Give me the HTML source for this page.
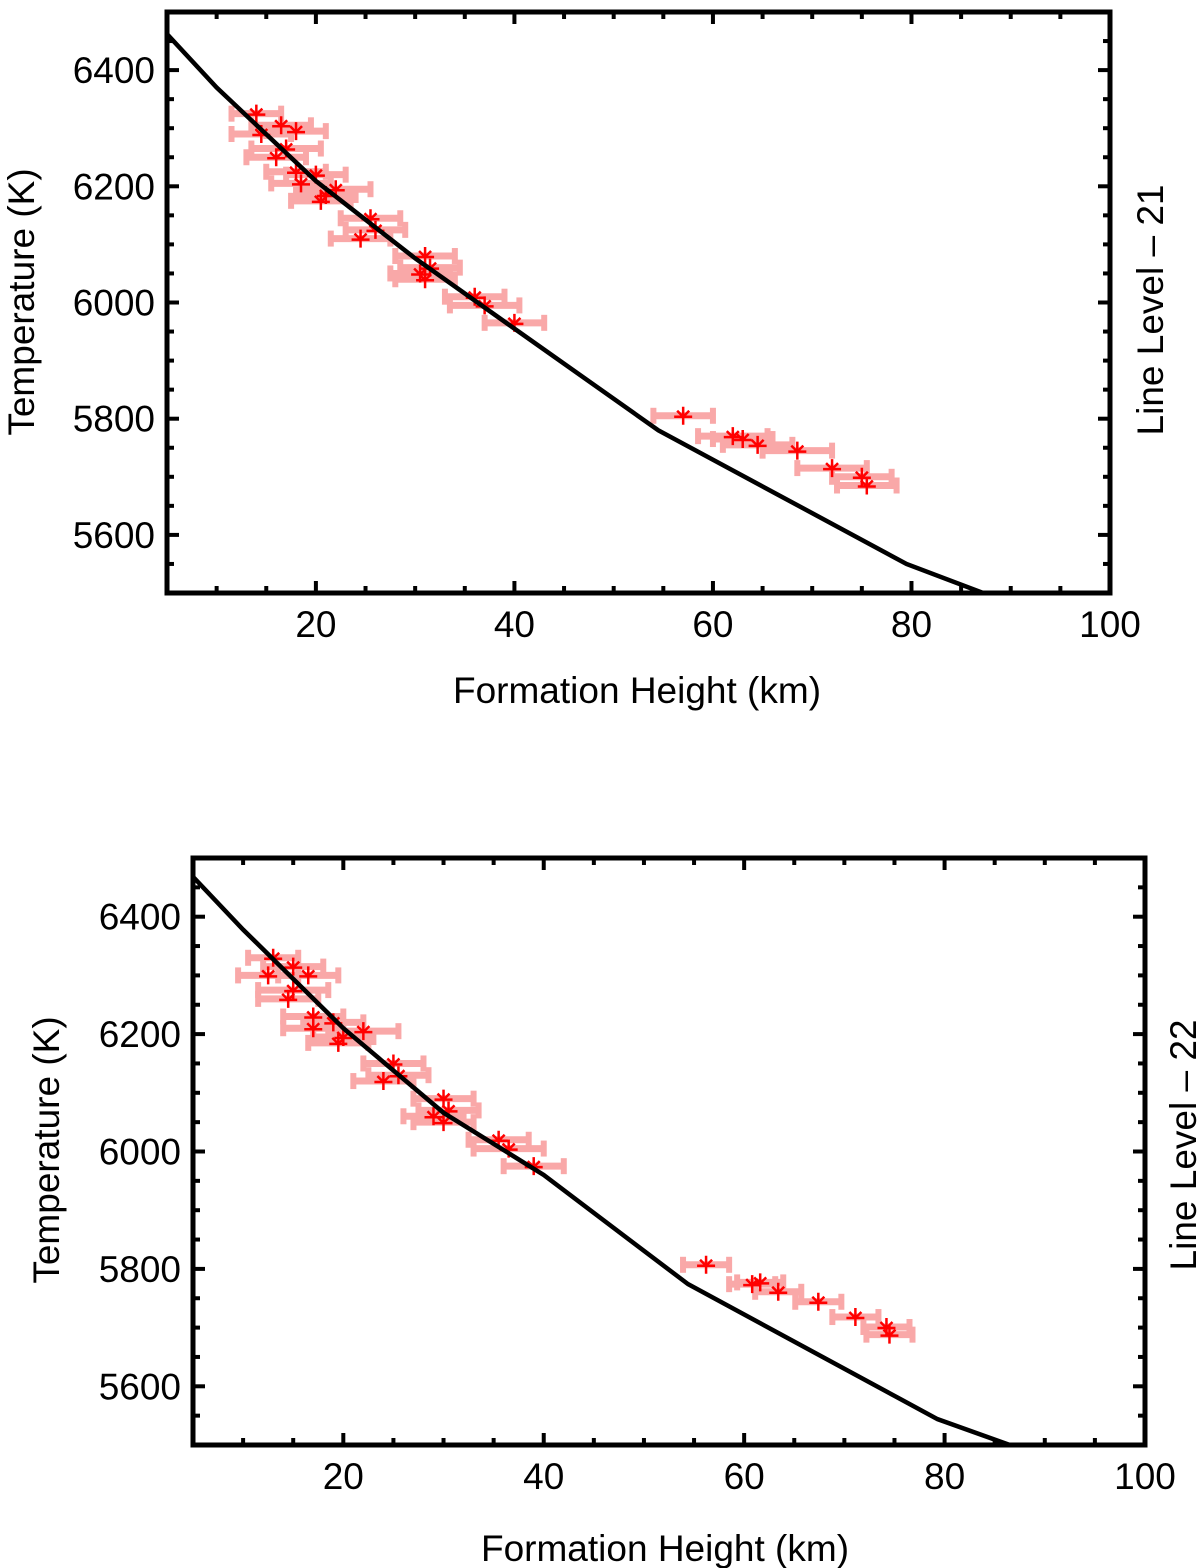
<!DOCTYPE html>
<html><head><meta charset="utf-8"><style>
html,body{margin:0;padding:0;background:#fff;}
svg{display:block;font-family:"Liberation Sans",Arial,sans-serif;}
</style></head><body>
<svg id="chart" width="1200" height="1568" viewBox="0 0 1200 1568" xmlns="http://www.w3.org/2000/svg"></svg>
<script>
// ---- data ----
const xTicks = [20, 40, 60, 80, 100];
const yTicks = [5600, 5800, 6000, 6200, 6400];
const topX = [14,16.5,18,14.5,17,16,18,20,18.5,21,20.5,22,25.5,26,24.5,31,31.5,31,30.5,36,37,40,57,62,63,64.5,68.5,72,75,75.5];
const topT = [6325,6305,6295,6290,6265,6250,6225,6220,6205,6185,6175,6195,6145,6125,6110,6080,6060,6040,6050,6010,5995,5965,5805,5770,5765,5755,5745,5715,5700,5685];
const topErr = [2.5,3,3,3,3.5,3,3,3,3,3,3,3.5,3,3,3,3,3,3,3,3,3.5,3,3,3.5,3,3.5,3.5,3.5,3,3];
const topCurveX = [5,10,20,30,40,54.5,79.5,88];
const topCurveT = [6462,6370,6209,6076,5955,5780,5550,5495];
const botX = [13,15,16.5,12.5,15,14.5,17,19,17,20,19.5,22,25,25.5,24,30,30.5,30,29,35.5,36.5,39,56.2,60.8,61.6,63.4,67.4,71.1,74.2,74.5];
const botT = [6330,6315,6300,6300,6275,6260,6230,6220,6210,6195,6185,6205,6150,6130,6120,6090,6070,6050,6060,6020,6005,5975,5807,5774,5777,5761,5744,5718,5701,5688];
const botErr = [2.5,3,3,3,3.5,3,3,3,3,3,3,3.5,3,3,3,3,3,3,3,3,3.5,3,2.3,2.3,2.3,2.3,2.3,2.3,2.3,2.3];
const botCurveX = [5,10,20,30,40,54.4,79.3,87];
const botCurveT = [6468,6378,6210,6066,5960,5774,5544,5497];

const NS = "http://www.w3.org/2000/svg";
const svg = document.getElementById('chart');
function mk(tag, attrs, parent){const e=document.createElementNS(NS,tag);for(const k in attrs)e.setAttribute(k,attrs[k]);(parent||svg).appendChild(e);return e;}

function panel(id, box, xs, ts, errs, cx, ct, xTitlePos, yTitlePos, rightLabel, rightPos){
  const g = mk('g',{});
  
  
  const sx = v => box.l + (v-5)/(100-5)*(box.r-box.l);
  const sy = v => box.b - (v-5500)/(6500-5500)*(box.b-box.t);
  const clip = mk('clipPath',{id:id+'-clip'},g);
  mk('rect',{x:box.l,y:box.t,width:box.r-box.l,height:box.b-box.t},clip);
  const plot = mk('g',{'clip-path':'url(#'+id+'-clip)'},g);
  const eb = mk('g',{},plot);
  
  
  for(let i=0;i<xs.length;i++){
    const x1=sx(xs[i]-errs[i]), x2=sx(xs[i]+errs[i]), y=sy(ts[i]);
    const l=mk('line',{x1:x1,x2:x2,y1:y,y2:y,stroke:'#f9a8a8','stroke-width':7},eb);
    
    
    mk('line',{x1:x1,x2:x1,y1:y-8,y2:y+8,stroke:'#f9a8a8','stroke-width':6},eb);
    mk('line',{x1:x2,x2:x2,y1:y-8,y2:y+8,stroke:'#f9a8a8','stroke-width':6},eb);
  }
  const mg = mk('g',{},plot);
  
  
  for(let i=0;i<xs.length;i++){
    const x=sx(xs[i]), y=sy(ts[i]);
    const p=mk('path',{d:`M${x} ${y-9}L${x} ${y+9}M${x-9} ${y+1}L${x+9} ${y+1}M${x-6} ${y-5}L${x} ${y+1}L${x+6} ${y-5}`,stroke:'#ff0000','stroke-width':2.5,fill:'none'},mg);
    
    
  }
  let d='';
  for(let i=0;i<cx.length;i++) d+=(i?'L':'M')+sx(cx[i])+' '+sy(ct[i]);
  const c=mk('path',{d:d,stroke:'#000','stroke-width':4.5,fill:'none'},plot);
  
  
  const fr=mk('rect',{x:box.l,y:box.t,width:box.r-box.l,height:box.b-box.t,fill:'none',stroke:'#000','stroke-width':5},g);
  
  
  for(let v=10; v<=95; v+=5){
    const x=sx(v), L=(v%20===0)?12:7;
    mk('line',{x1:x,x2:x,y1:box.b,y2:box.b-L,stroke:'#000','stroke-width':4},g);
    mk('line',{x1:x,x2:x,y1:box.t,y2:box.t+L,stroke:'#000','stroke-width':4},g);
  }
  for(let v=5550; v<=6450; v+=50){
    const y=sy(v), L=(v%200===0)?12:7;
    mk('line',{x1:box.l,x2:box.l+L,y1:y,y2:y,stroke:'#000','stroke-width':4},g);
    mk('line',{x1:box.r,x2:box.r-L,y1:y,y2:y,stroke:'#000','stroke-width':4},g);
  }
  xTicks.forEach(v=>{
    const t=mk('text',{x:sx(v),y:box.b+44,'text-anchor':'middle','font-size':37},g);
    t.textContent=v;
    
    
  });
  yTicks.forEach(v=>{
    const t=mk('text',{x:box.l-12,y:sy(v)+13,'text-anchor':'end','font-size':37},g);
    t.textContent=v;
    
    
  });
  const xt=mk('text',{x:xTitlePos[0],y:xTitlePos[1],'text-anchor':'middle','font-size':37},g);
  xt.textContent='Formation Height (km)';
  
  
  const yt=mk('text',{x:0,y:0,'text-anchor':'middle','font-size':37,transform:`translate(${yTitlePos[0]},${yTitlePos[1]}) rotate(-90)`},g);
  yt.textContent='Temperature (K)';
  
  
  const rl=mk('text',{x:0,y:0,'text-anchor':'middle','font-size':37,transform:`translate(${rightPos[0]},${rightPos[1]}) rotate(-90)`},g);
  rl.textContent=rightLabel;
  
  
}

panel('top-panel',{l:167,r:1110,t:12,b:593},topX,topT,topErr,topCurveX,topCurveT,[637,703],[34,302],'Line Level \u2013 21',[1163,310]);
panel('bottom-panel',{l:193,r:1145,t:858,b:1445},botX,botT,botErr,botCurveX,botCurveT,[665,1561],[59,1150],'Line Level \u2013 22',[1196,1145]);
</script>
</body></html>
